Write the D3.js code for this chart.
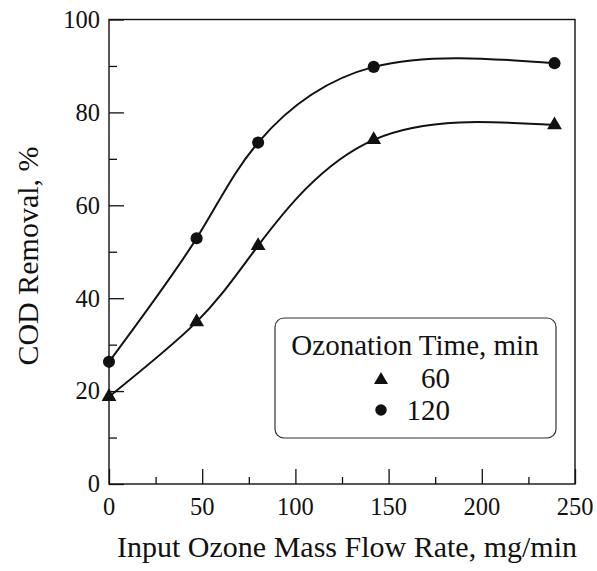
<!DOCTYPE html>
<html>
<head>
<meta charset="utf-8">
<script src="https://cdn.jsdelivr.net/npm/d3@7"></script>
<style>
  body { margin: 0; background: #fff; }
</style>
</head>
<body>
<div class="chart"></div>
<script>
// Data
const flowRates = [0, 47, 80, 142, 239];           // mg/min
const removal60 = [18.8, 34.9, 51.3, 74.1, 77.3];   // % (60 min)
const removal120 = [26.3, 52.9, 73.5, 89.8, 90.6];  // % (120 min)
const xTicks = [0, 50, 100, 150, 200, 250];
const xMinor = [25, 75, 125, 175, 225];
const yTicks = [0, 20, 40, 60, 80, 100];
const yMinor = [10, 30, 50, 70, 90];
const seriesNames = ["60", "120"];

const fontName = "Liberation Serif";

const width = 597;
const height = 571;
const margin = {top: 19.5, right: 22, bottom: 87, left: 109};
const innerWidth = width - margin.left - margin.right;
const innerHeight = height - margin.top - margin.bottom;

const svg = d3.select(".chart")
  .append("svg")
    .attr("width", width)
    .attr("height", height)
    .attr("font-family", fontName)
  .append("g")
    .attr("transform", `translate(${margin.left}, ${margin.top})`);

const x = d3.scaleLinear().domain([0, 250]).range([0, innerWidth]);
const y = d3.scaleLinear().domain([0, 100]).range([innerHeight, 0]);

// frame (top + right without ticks)
svg.append("rect")
  .attr("width", innerWidth)
  .attr("height", innerHeight)
  .attr("fill", "none")
  .attr("stroke", "#111")
  .attr("stroke-width", 1.4);

// bottom axis, ticks pointing inward
const xAxis = svg.append("g")
  .attr("transform", `translate(0, ${innerHeight})`)
  .call(d3.axisTop(x).tickValues(xTicks).tickSize(15).tickFormat(""));
xAxis.append("g")
  .call(d3.axisTop(x).tickValues(xMinor).tickSize(7).tickFormat(""));
xAxis.selectAll(".domain").remove();
xAxis.selectAll("line").attr("stroke", "#111").attr("stroke-width", 1.3);

svg.append("g")
  .selectAll("text")
  .data(xTicks)
  .enter()
  .append("text")
    .attr("x", d => x(d))
    .attr("y", innerHeight + 31)
    .attr("text-anchor", "middle")
    .attr("font-family", fontName)
    .attr("font-size", 24.5)
    .attr("fill", "#111")
    .text(d => d);

// left axis, ticks pointing inward
const yAxis = svg.append("g")
  .call(d3.axisRight(y).tickValues(yTicks).tickSize(15).tickFormat(""));
yAxis.append("g")
  .call(d3.axisRight(y).tickValues(yMinor).tickSize(8).tickFormat(""));
yAxis.selectAll(".domain").remove();
yAxis.selectAll("line").attr("stroke", "#111").attr("stroke-width", 1.3);

svg.append("g")
  .selectAll("text")
  .data(yTicks)
  .enter()
  .append("text")
    .attr("x", -9)
    .attr("y", d => y(d))
    .attr("dy", "0.34em")
    .attr("text-anchor", "end")
    .attr("font-family", fontName)
    .attr("font-size", 24.5)
    .attr("fill", "#111")
    .text(d => d);

// axis titles
svg.append("text")
  .attr("x", (x(0) + x(250)) / 2 + 5)
  .attr("y", innerHeight + 73)
  .attr("text-anchor", "middle")
  .attr("font-family", fontName)
  .attr("font-size", 30)
  .attr("fill", "#111")
  .text("Input Ozone Mass Flow Rate, mg/min");

svg.append("text")
  .attr("transform", `translate(${38 - margin.left}, ${256 - margin.top}) rotate(-90)`)
  .attr("text-anchor", "middle")
  .attr("font-family", fontName)
  .attr("font-size", 30)
  .attr("fill", "#111")
  .text("COD Removal, %");

// fitted curves
const line = d3.line()
  .x(d => x(d[0]))
  .y(d => y(d[1]))
  .curve(d3.curveNatural);

const series = [
  {name: seriesNames[0], values: removal60, shape: d3.symbolTriangle, size: 95},
  {name: seriesNames[1], values: removal120, shape: d3.symbolCircle, size: 115}
];

series.forEach(s => {
  const pts = flowRates.map((f, i) => [f, s.values[i]]);
  svg.append("path")
    .datum(pts)
    .attr("d", line)
    .attr("fill", "none")
    .attr("stroke", "#111")
    .attr("stroke-width", 2);

  svg.append("g")
    .selectAll("path")
    .data(pts)
    .enter()
    .append("path")
      .attr("d", d3.symbol().type(s.shape).size(s.size))
      .attr("transform", d => `translate(${x(d[0])}, ${y(d[1])})`)
      .attr("fill", "#111");
});

// legend
const legend = svg.append("g")
  .attr("transform", `translate(${275 - margin.left}, ${318 - margin.top})`);

legend.append("rect")
  .attr("width", 281)
  .attr("height", 120)
  .attr("rx", 9)
  .attr("fill", "#fff")
  .attr("stroke", "#333")
  .attr("stroke-width", 1.2);

legend.append("text")
  .attr("x", 140)
  .attr("y", 37)
  .attr("text-anchor", "middle")
  .attr("font-family", fontName)
  .attr("font-size", 29)
  .attr("fill", "#111")
  .text("Ozonation Time, min");

series.forEach((s, i) => {
  legend.append("path")
    .attr("d", d3.symbol().type(s.shape).size(s.size * 0.9))
    .attr("transform", `translate(${106}, ${62 + i * 30})`)
    .attr("fill", "#111");
  legend.append("text")
    .attr("x", 175)
    .attr("y", 70 + i * 32)
    .attr("text-anchor", "end")
    .attr("font-family", fontName)
    .attr("font-size", 29)
    .attr("fill", "#111")
    .text(s.name);
});
</script>
</body>
</html>
